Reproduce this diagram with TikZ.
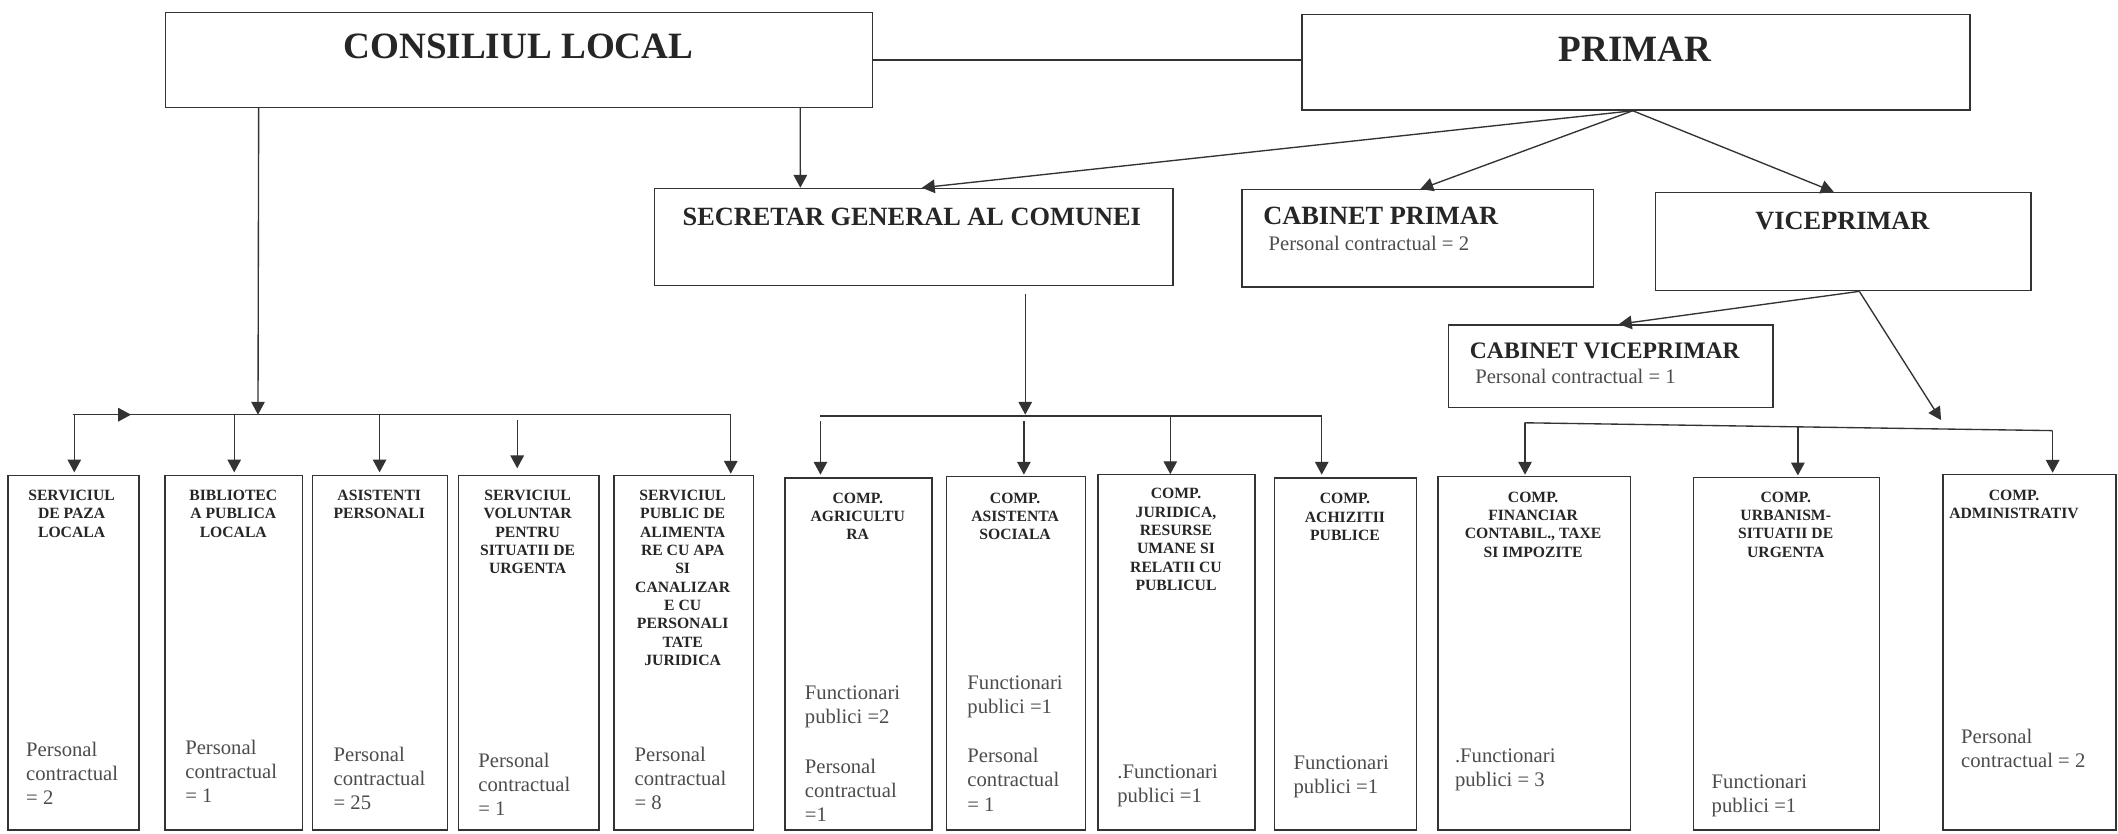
\documentclass[tikz,border=0pt]{standalone}
\usepackage{fontspec}
\setmainfont{Liberation Serif}
\usetikzlibrary{arrows.meta}
\begin{document}
\begin{tikzpicture}[x=1pt,y=-1pt,
  box/.style={draw=black!80, line width=1pt, inner sep=0pt, anchor=north west},
  arr/.style={draw=black!80, line width=1pt, -{Triangle[length=9.5pt,width=10pt]}},
  ln/.style={draw=black!80, line width=1pt},
  big/.style={font=\bfseries\fontsize{27.5}{30}\selectfont, text=black!85, inner sep=0pt},
  mid/.style={font=\bfseries\fontsize{19.5}{22}\selectfont, text=black!85, inner sep=0pt},
  small/.style={font=\bfseries\fontsize{11.6}{13.6}\selectfont, text=black!85, align=center, inner sep=0pt, anchor=north},
  note/.style={font=\fontsize{15.3}{17.8}\selectfont, text=black!70, align=left, inner sep=0pt, anchor=north west},
]
\useasboundingbox[fill=white] (0,0) rectangle (1568,617);

% top boxes
\node[box, minimum width=523.5pt, minimum height=70.4pt] (cl) at (122,8.6) {};
\node[box, minimum width=494.5pt, minimum height=71pt] (primar) at (963.5,10) {};
\node[box, minimum width=384pt, minimum height=72pt] (secretar) at (484,139) {};
\node[box, minimum width=260pt, minimum height=72pt] (cabp) at (919,140) {};
\node[box, minimum width=278pt, minimum height=72.7pt] (vice) at (1225,142) {};
\node[box, minimum width=240pt, minimum height=61pt] (cabv) at (1072,240) {};

\node[big] (tcl) at (383.8,34.3) {CONSILIUL LOCAL};
\node[big] (tpr) at (1210.5,36.4) {PRIMAR};
\node[mid] (tse) at (675,160.4) {SECRETAR GENERAL AL COMUNEI};
\node[mid, anchor=west] (tcp) at (935,160) {CABINET PRIMAR};
\node[note, anchor=west] (ncp) at (939,180) {Personal contractual = 2};
\node[mid] (tvi) at (1364,163.6) {VICEPRIMAR};
\node[font=\bfseries\fontsize{17.5}{20}\selectfont, text=black!85, inner sep=0pt, anchor=west] (tcv) at (1088,259.7) {CABINET VICEPRIMAR};
\node[note, anchor=west] (ncv) at (1092,278.6) {Personal contractual = 1};

% bottom boxes
\node[box, minimum width=97pt, minimum height=262.3pt] (b1) at (5.4,351.7) {};
\node[box, minimum width=101.7pt, minimum height=262.3pt] (b2) at (121.6,351.7) {};
\node[box, minimum width=100pt, minimum height=262.3pt] (b3) at (230.7,351.7) {};
\node[box, minimum width=104.2pt, minimum height=262.3pt] (b4) at (338.8,351.7) {};
\node[box, minimum width=103.2pt, minimum height=262.3pt] (b5) at (454,351.7) {};
\node[box, minimum width=108.9pt, minimum height=260.6pt] (b6) at (580.6,353.4) {};
\node[box, minimum width=103pt, minimum height=261.6pt] (b7) at (700,352.4) {};
\node[box, minimum width=116.3pt, minimum height=263pt] (b8) at (812.4,351) {};
\node[box, minimum width=105pt, minimum height=260.6pt] (b9) at (943,353.4) {};
\node[box, minimum width=142.6pt, minimum height=261.6pt] (b10) at (1064,352.4) {};
\node[box, minimum width=137.7pt, minimum height=261pt] (b11) at (1253,353) {};
\node[box, minimum width=128pt, minimum height=263pt] (b12) at (1438,351) {};

% bottom titles
\node[small] (t1) at (53,362.5) {SERVICIUL\\DE PAZA\\LOCALA};
\node[small] (t2) at (172.7,362.5) {BIBLIOTEC\\A PUBLICA\\LOCALA};
\node[small] (t3) at (280.8,362.5) {ASISTENTI\\PERSONALI};
\node[small] (t4) at (390.6,362.5) {SERVICIUL\\VOLUNTAR\\PENTRU\\SITUATII DE\\URGENTA};
\node[small] (t5) at (505.4,362.5) {SERVICIUL\\PUBLIC DE\\ALIMENTA\\RE CU APA\\SI\\CANALIZAR\\E CU\\PERSONALI\\TATE\\JURIDICA};
\node[small] (t6) at (635,364.5) {COMP.\\AGRICULTU\\RA};
\node[small] (t7) at (751.5,364.5) {COMP.\\ASISTENTA\\SOCIALA};
\node[small] (t8) at (870.6,361.3) {COMP.\\JURIDICA,\\RESURSE\\UMANE SI\\RELATII CU\\PUBLICUL};
\node[small] (t9) at (995.7,365) {COMP.\\ACHIZITII\\PUBLICE};
\node[small] (t10) at (1135,363.8) {COMP.\\FINANCIAR\\CONTABIL., TAXE\\SI IMPOZITE};
\node[small] (t11) at (1322,363.8) {COMP.\\URBANISM-\\SITUATII DE\\URGENTA};
\node[small] (t12) at (1491,362.6) {COMP.\\ADMINISTRATIV};

% bottom notes
\node[note] (n1) at (19.2,549.2) {Personal\\contractual\\= 2};
\node[note] (n2) at (137,548) {Personal\\contractual\\= 1};
\node[note] (n3) at (246.8,553) {Personal\\contractual\\= 25};
\node[note] (n4) at (354,557.4) {Personal\\contractual\\= 1};
\node[note] (n5) at (469.6,553) {Personal\\contractual\\= 8};
\node[note] (n6a) at (595.7,507.3) {Functionari\\publici =2};
\node[note] (n6b) at (595.7,561.6) {Personal\\contractual\\=1};
\node[note] (n7a) at (716,499.9) {Functionari\\publici =1};
\node[note] (n7b) at (716,554) {Personal\\contractual\\= 1};
\node[note] (n8) at (827,566) {.Functionari\\publici =1};
\node[note] (n9) at (957.5,559.6) {Functionari\\publici =1};
\node[note] (n10) at (1077,554) {.Functionari\\publici = 3};
\node[note] (n11) at (1267,573.4) {Functionari\\publici =1};
\node[note] (n12) at (1451.7,539.4) {Personal\\contractual = 2};

% top connectors
\draw[ln] (cl.east) -- (cl.east -| primar.west);
\draw[arr] ([xshift=208.2pt]cl.south) -- ([xshift=-84pt]secretar.north);
\draw[arr] ([xshift=-2.5pt]primar.south) -- ([xshift=6pt]secretar.north);
\draw[arr] ([xshift=-2.5pt]primar.south) -- ([xshift=2pt]cabp.north);
\draw[arr] ([xshift=-2.5pt]primar.south) -- ([xshift=-7pt]vice.north);
\draw[arr] ([xshift=12pt]vice.south) -- ([xshift=6pt]cabv.north);

% left bus
\coordinate (lbus) at (191,307);
\coordinate (lbW) at (53.8,307);
\coordinate (lbE) at (541,307);
\coordinate (lbA) at (97,307);
\draw[arr] ([xshift=-192.75pt]cl.south) -- (lbus);
\draw[ln] (lbW) -- (lbE);
\draw[arr] (lbW) -- (lbA);
\coordinate (ld1) at (55,307);
\coordinate (ld2) at (173.4,307);
\coordinate (ld3) at (281,307);
\coordinate (ld4) at (382.9,311);
\coordinate (ld5) at (541,307);
\draw[arr, shorten >=2pt] (ld1) -- (ld1 |- b1.north);
\draw[arr, shorten >=2pt] (ld2) -- (ld2 |- b2.north);
\draw[arr, shorten >=2pt] (ld3) -- (ld3 |- b3.north);
\draw[arr, shorten >=5pt] (ld4) -- (ld4 |- b4.north);
\draw[arr, shorten >=1pt] (ld5) -- (ld5 |- b5.north);

% middle bus
\coordinate (mbus) at (759,307);
\coordinate (mbW) at (607.4,308);
\coordinate (mbE) at (978.5,308);
\draw[arr, shorten <=6pt] (secretar.south -| mbus) -- (mbus);
\draw[ln] (mbW) -- (mbE);
\coordinate (md1) at (607.4,312);
\coordinate (md2) at (758,312);
\coordinate (md3) at (866.4,308);
\coordinate (md4) at (978.5,308);
\draw[arr, shorten >=2pt] (md1) -- (md1 |- b6.north);
\draw[arr, shorten >=1pt] (md2) -- (md2 |- b7.north);
\draw[arr, shorten >=0pt] (md3) -- (md3 |- b8.north);
\draw[arr, shorten >=2pt] (md4) -- (md4 |- b9.north);

% right bus
\coordinate (rbW) at (1128.6,313);
\coordinate (rbE) at (1519.6,318.8);
\coordinate (rbA) at (1437,311);
\draw[arr] ([xshift=12pt]vice.south) -- (rbA);
\draw[ln] (rbW) -- (rbE);
\coordinate (rd1) at (1129,313);
\coordinate (rd2) at (1331,316);
\draw[arr, shorten >=1pt] (rd1) -- (rd1 |- b10.north);
\draw[arr, shorten >=1pt] (rd2) -- (rd2 |- b11.north);
\draw[arr, shorten >=1pt] (rbE) -- (rbE |- b12.north);
\end{tikzpicture}
\end{document}
